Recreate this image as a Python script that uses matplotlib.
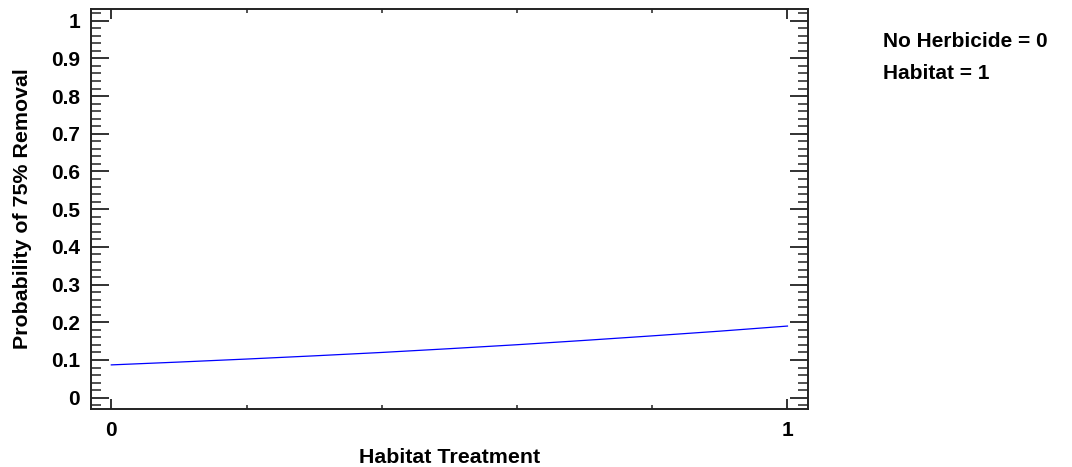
import numpy as np
import matplotlib
matplotlib.use("Agg")
import matplotlib.pyplot as plt
from matplotlib.ticker import MultipleLocator

# Fitted probability curve
habitat = [0.0, 0.1, 0.2, 0.3, 0.4, 0.5, 0.6, 0.7, 0.8, 0.9, 1.0]
prob = [0.087, 0.0945, 0.1025, 0.111, 0.120, 0.130, 0.1405, 0.152, 0.164, 0.1765, 0.190]

x_ticks = [0, 1]
y_ticks = [0, 0.1, 0.2, 0.3, 0.4, 0.5, 0.6, 0.7, 0.8, 0.9, 1]
note_lines = ["No Herbicide = 0", "Habitat = 1"]

plt.rcParams['font.family'] = ['Liberation Sans', 'DejaVu Sans']
plt.rcParams['font.weight'] = 'bold'

fig = plt.figure(figsize=(10.72, 4.67), dpi=100)
ax = fig.add_axes([0.0849, 0.1242, 0.6686, 0.8565])

ax.plot(habitat, prob, color='#0000ff', lw=0.9)

ax.set_xlim(-0.03, 1.03)
ax.set_ylim(-0.03, 1.031)
ax.set_xticks(x_ticks)
ax.set_xticklabels([str(t) for t in x_ticks])
ax.set_yticks(y_ticks)
ax.set_yticklabels([f"{t:g}" for t in y_ticks])
ax.xaxis.set_minor_locator(MultipleLocator(0.2))
ax.yaxis.set_minor_locator(MultipleLocator(0.02))

for s in ax.spines.values():
    s.set_linewidth(1.4)
    s.set_color('#222222')

ax.tick_params(which='both', direction='in', top=True, right=True, color='#222222')
ax.tick_params(which='major', width=1.3, labelsize=15)
ax.tick_params(which='minor', width=1.1)
ax.tick_params(axis='y', which='major', length=13, pad=8)
ax.tick_params(axis='y', which='minor', length=7)
ax.tick_params(axis='x', which='major', length=7, pad=9)
ax.tick_params(axis='x', which='minor', length=3)

ax.set_xlabel("Habitat Treatment", fontsize=15.4, fontweight='bold')
ax.set_ylabel("Probability of 75% Removal", fontsize=15.4, fontweight='bold')
ax.xaxis.set_label_coords(0.5, -0.097)
ax.yaxis.set_label_coords(-0.082, 0.5)

for i, line in enumerate(note_lines):
    fig.text(883 / 1072, 1 - (32 + i * 32) / 467, line, fontsize=15,
             fontweight='bold', va='top', ha='left')

fig.savefig("out.png", dpi=100)
